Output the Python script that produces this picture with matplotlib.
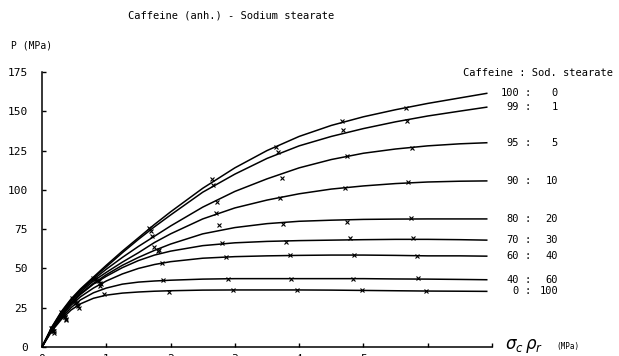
import matplotlib
matplotlib.use("Agg")
import matplotlib.pyplot as plt
import matplotlib.transforms as mtrans

W, H = 619, 356

# ---- data ----
ratio_left = ["100", "99", "95", "90", "80", "70", "60", "40", "0"]
ratio_right = ["0", "1", "5", "10", "20", "30", "40", "60", "100"]

curve_x = [0, 0.15, 0.3, 0.45, 0.6, 0.8, 1.0, 1.25, 1.5, 1.75, 2, 2.5, 3, 3.5, 4, 4.5, 5, 5.5, 6, 6.5, 6.93]
curve_100_0 = [0, 12.5, 22.5, 30.5, 37, 44.5, 52, 61, 69.5, 78, 86, 101, 114, 125, 134, 141, 146.5, 151, 155, 158.5, 161.5]
curve_99_1 = [0, 12.3, 22, 30, 36.5, 44, 51, 60, 68.5, 76.5, 84, 98.5, 110, 120, 128, 134, 139, 143.3, 147, 150.1, 152.7]
curve_95_5 = [0, 12, 21.5, 29.5, 36, 43, 49.5, 57, 64, 70.5, 77, 89, 99, 107, 114, 119.3, 123.3, 126, 128, 129.3, 130]
curve_90_10 = [0, 11.8, 21, 29, 35, 42, 47.5, 54, 60, 66.5, 72, 81.5, 88.5, 93.5, 97.5, 100.5, 102.5, 104, 105, 105.5, 105.7]
curve_80_20 = [0, 11.5, 20.5, 28, 34, 40.5, 46, 52, 57, 61.5, 65.5, 72, 76, 78.5, 80, 80.7, 81.2, 81.4, 81.5, 81.5, 81.5]
curve_70_30 = [0, 11.3, 20, 27.5, 33.5, 40, 45, 50.5, 55, 58.5, 61, 64.5, 66.3, 67.2, 67.7, 68, 68.3, 68.5, 68.5, 68.3, 68]
curve_60_40 = [0, 11, 19.5, 26.5, 32, 37.5, 42, 46.5, 50, 52.5, 54.3, 56.5, 57.5, 58, 58.3, 58.5, 58.5, 58.3, 58, 58, 57.8]
curve_40_60 = [0, 10.5, 18.5, 25, 30, 34.5, 37.5, 40, 41.3, 42, 42.5, 43.2, 43.5, 43.5, 43.5, 43.5, 43.5, 43.3, 43.2, 43, 42.8]
curve_0_100 = [0, 10, 17.5, 23.5, 27.5, 31, 33, 34.3, 35, 35.5, 35.8, 36.2, 36.3, 36.3, 36.3, 36.2, 36, 35.8, 35.6, 35.5, 35.4]

pts_x_100_0 = [0.14, 0.30, 0.47, 0.80, 1.66, 2.64, 3.64, 4.67, 5.66]
pts_y_100_0 = [12, 22, 31, 44, 76, 107, 127, 143.8, 152]
pts_x_99_1 = [0.15, 0.31, 0.49, 0.82, 1.69, 2.66, 3.67, 4.68, 5.68]
pts_y_99_1 = [12, 21, 30, 43, 74, 103, 124, 138, 143.8]
pts_x_95_5 = [0.15, 0.32, 0.50, 0.84, 1.71, 2.72, 3.73, 4.74, 5.75]
pts_y_95_5 = [11, 21, 30, 43, 70.6, 92, 107.5, 121.5, 126.6]
pts_x_90_10 = [0.16, 0.33, 0.51, 0.86, 1.74, 2.70, 3.70, 4.71, 5.69]
pts_y_90_10 = [11, 20, 29, 42, 63.6, 85, 94.8, 101.2, 105]
pts_x_80_20 = [0.16, 0.34, 0.52, 0.88, 1.82, 2.75, 3.75, 4.74, 5.74]
pts_y_80_20 = [11, 20, 28, 42, 61.5, 77.6, 78.2, 79.5, 82]
pts_x_70_30 = [0.17, 0.35, 0.54, 0.90, 1.80, 2.80, 3.79, 4.79, 5.77]
pts_y_70_30 = [10, 19, 28, 41, 61, 66.2, 66.8, 69.3, 69.3]
pts_x_60_40 = [0.17, 0.36, 0.55, 0.92, 1.87, 2.86, 3.86, 4.85, 5.83]
pts_y_60_40 = [10, 19, 27, 40, 53.5, 57.3, 58.5, 58.5, 57.9]
pts_x_40_60 = [0.18, 0.37, 0.56, 0.90, 1.88, 2.89, 3.87, 4.84, 5.85]
pts_y_40_60 = [10, 18, 26, 38.8, 42.6, 43.3, 43.3, 43.3, 43.9]
pts_x_0_100 = [0.18, 0.38, 0.58, 0.96, 1.98, 2.97, 3.97, 4.98, 5.97]
pts_y_0_100 = [9, 17, 25, 33.7, 35, 36.3, 36.3, 36.3, 35.6]

y_ticks = [0, 25, 50, 75, 100, 125, 150, 175]
x_ticks = [0, 1, 2, 3, 4, 5, 6, 7]
x_tick_labels = ["0", "1", "2", "3", "4", "5", "", ""]

curves = [curve_100_0, curve_99_1, curve_95_5, curve_90_10, curve_80_20,
          curve_70_30, curve_60_40, curve_40_60, curve_0_100]
pts = [(pts_x_100_0, pts_y_100_0), (pts_x_99_1, pts_y_99_1), (pts_x_95_5, pts_y_95_5),
       (pts_x_90_10, pts_y_90_10), (pts_x_80_20, pts_y_80_20), (pts_x_70_30, pts_y_70_30),
       (pts_x_60_40, pts_y_60_40), (pts_x_40_60, pts_y_40_60), (pts_x_0_100, pts_y_0_100)]

# ---- figure ----
plt.rcParams['font.family'] = ['DejaVu Sans Mono', 'DejaVu Sans']
fig = plt.figure(figsize=(W / 100, H / 100), dpi=100)
ax_left, ax_right, ax_bottom, ax_top = 42, 492, 347, 72
ax = fig.add_axes([ax_left / W, (H - ax_bottom) / H,
                   (ax_right - ax_left) / W, (ax_bottom - ax_top) / H])
ax.set_xlim(0, 7)
ax.set_ylim(0, 175)

for c, (px, py) in zip(curves, pts):
    ax.plot(curve_x, c, color='black', lw=1.1, solid_capstyle='butt',
            solid_joinstyle='round', clip_on=False)
    ax.plot(px, py, linestyle='none', marker='x', ms=3.5, mew=0.8, color='black', clip_on=False)

for s in ['top', 'right']:
    ax.spines[s].set_visible(False)
for s in ['left', 'bottom']:
    ax.spines[s].set_linewidth(1.1)

ax.set_yticks(y_ticks)
ax.set_yticklabels([str(v) for v in y_ticks], fontsize=8)
ax.set_xticks(x_ticks)
ax.set_xticklabels(x_tick_labels, fontsize=8)
ax.tick_params(axis='y', direction='in', length=3, width=1, pad=10)
ax.tick_params(axis='x', direction='in', length=3, width=1, pad=5)

def ft(x, y, s, **kw):
    fig.text(x / W, 1 - y / H, s, **kw)

ft(231, 15, "Caffeine (anh.) - Sodium stearate", fontsize=7.5, ha='center', va='center')
ft(11, 45, "P (MPa)", fontsize=7, ha='left', va='center')
ft(463, 73, "Caffeine : Sod. stearate", fontsize=7.5, ha='left', va='center')
ft(505, 346, r"$\sigma_c\,\rho_r$", fontsize=12, ha='left', va='center')
ft(556, 347, "(MPa)", fontsize=5.5, ha='left', va='center')

tr = mtrans.blended_transform_factory(fig.transFigure, ax.transData)
for left, right, c in zip(ratio_left, ratio_right, curves):
    yv = c[-1]
    fig.text(519 / W, yv, left, transform=tr, fontsize=7.5, ha='right', va='center')
    fig.text(528 / W, yv, ":", transform=tr, fontsize=7.5, ha='center', va='center')
    fig.text(558 / W, yv, right, transform=tr, fontsize=7.5, ha='right', va='center')

fig.savefig("out.png", dpi=100)
